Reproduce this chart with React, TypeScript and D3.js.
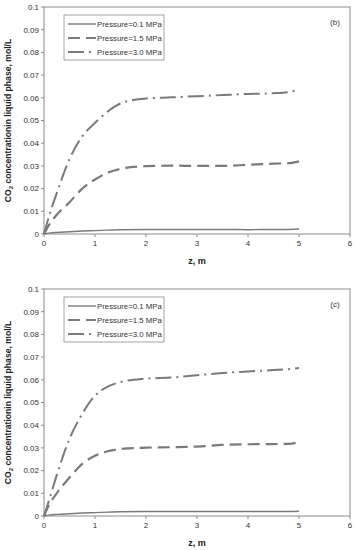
import React from 'react';
import * as d3 from 'd3';

const zValues = [0, 0.1, 0.25, 0.5, 0.75, 1, 1.25, 1.5, 2, 2.5, 3, 3.5, 4, 4.5, 4.8, 5];

// panel (b)
const b01 = [0, 0.0004, 0.0007, 0.001, 0.0013, 0.0015, 0.0017, 0.0019, 0.002, 0.002, 0.002, 0.002, 0.0019, 0.002, 0.002, 0.0022];
const b15 = [0, 0.004, 0.0085, 0.014, 0.02, 0.024, 0.027, 0.0287, 0.0299, 0.0301, 0.03, 0.03, 0.0305, 0.031, 0.0312, 0.032];
const b30 = [0, 0.008, 0.018, 0.033, 0.043, 0.049, 0.054, 0.0575, 0.0597, 0.0602, 0.0607, 0.0612, 0.0617, 0.062, 0.0625, 0.0638];

// panel (c)
const c01 = [0, 0.0004, 0.0007, 0.001, 0.0013, 0.0015, 0.0017, 0.0019, 0.002, 0.002, 0.002, 0.002, 0.002, 0.002, 0.002, 0.0021];
const c15 = [0, 0.005, 0.01, 0.017, 0.023, 0.0265, 0.0285, 0.0295, 0.0301, 0.0303, 0.0306, 0.0313, 0.0316, 0.0317, 0.0318, 0.0326];
const c30 = [0, 0.007, 0.018, 0.034, 0.045, 0.053, 0.057, 0.059, 0.0605, 0.061, 0.062, 0.063, 0.0637, 0.0643, 0.0647, 0.0652];

const legendLabels = ['Pressure=0.1 MPa', 'Pressure=1.5 MPa', 'Pressure=3.0 MPa'];
const dashes = ['none', '12,6', '16,5,2,5'];
const widths = [1.4, 2.2, 2];
const xTicks = [0, 1, 2, 3, 4, 5, 6];
const yTicks = [0, 0.01, 0.02, 0.03, 0.04, 0.05, 0.06, 0.07, 0.08, 0.09, 0.1];

const LINE = '#7a7a7a';
const FONT = 'Arial, "Liberation Sans", sans-serif';

interface PanelProps {
  top: number;
  tag: string;
  series: number[][];
}

const Panel: React.FC<PanelProps> = ({ top, tag, series }) => {
  const left = 44;
  const right = 350;
  const bottom = top + 227;

  const x = d3.scaleLinear().domain([0, 6]).range([left, right]);
  const y = d3.scaleLinear().domain([0, 0.1]).range([bottom, top]);
  const line = d3.line<number>()
    .x((_, i) => x(zValues[i]))
    .y(d => y(d))
    .curve(d3.curveMonotoneX);

  const midY = (top + bottom) / 2;

  return (
    <g fontFamily={FONT}>
      <rect x={left} y={top} width={right - left} height={bottom - top} fill="none" stroke="#8c8c8c" strokeWidth={1} />

      {yTicks.map(t => (
        <g key={'y' + t}>
          <line x1={left - 3} x2={left} y1={y(t)} y2={y(t)} stroke="#8c8c8c" />
          <text x={left - 5} y={y(t)} dy="0.35em" textAnchor="end" fontSize={8} fill="#333">
            {d3.format('')(t)}
          </text>
        </g>
      ))}
      {xTicks.map(t => (
        <g key={'x' + t}>
          <line x1={x(t)} x2={x(t)} y1={bottom} y2={bottom + 3} stroke="#8c8c8c" />
          <text x={x(t)} y={bottom + 12} textAnchor="middle" fontSize={8} fill="#333">{t}</text>
        </g>
      ))}

      {series.map((s, i) => (
        <path key={i} d={line(s) || ''} fill="none" stroke={LINE} strokeWidth={widths[i]}
          strokeDasharray={dashes[i]} />
      ))}

      <rect x={64} y={top + 8} width={100} height={45} fill="#fff" stroke="#8c8c8c" strokeWidth={0.8} />
      {legendLabels.map((l, i) => {
        const ly = top + 17 + i * 14;
        return (
          <g key={l}>
            <line x1={68} x2={96} y1={ly} y2={ly} stroke={LINE} strokeWidth={widths[i]} strokeDasharray={dashes[i]} />
            <text x={97} y={ly} dy="0.35em" fontSize={7.8} fill="#333">{l}</text>
          </g>
        );
      })}

      <text x={335} y={top + 18} textAnchor="middle" fontSize={8} fill="#333">{tag}</text>

      <text x={(left + right) / 2} y={bottom + 30} textAnchor="middle" fontSize={9} fontWeight="bold" fill="#222">z, m</text>

      <text transform={`translate(11,${midY}) rotate(-90)`} textAnchor="middle" fontSize={8.6} fontWeight="bold" fill="#222">
        CO<tspan fontSize={6} dy="2">2</tspan><tspan dy="-2"> concentrationin liquid phase, mol/L</tspan>
      </text>
    </g>
  );
};

export default function App() {
  return (
    <svg width={358} height={550} style={{ position: 'absolute', left: 0, top: 0, background: '#fff' }}>
      <Panel top={7} tag="(b)" series={[b01, b15, b30]} />
      <Panel top={289} tag="(c)" series={[c01, c15, c30]} />
    </svg>
  );
}
